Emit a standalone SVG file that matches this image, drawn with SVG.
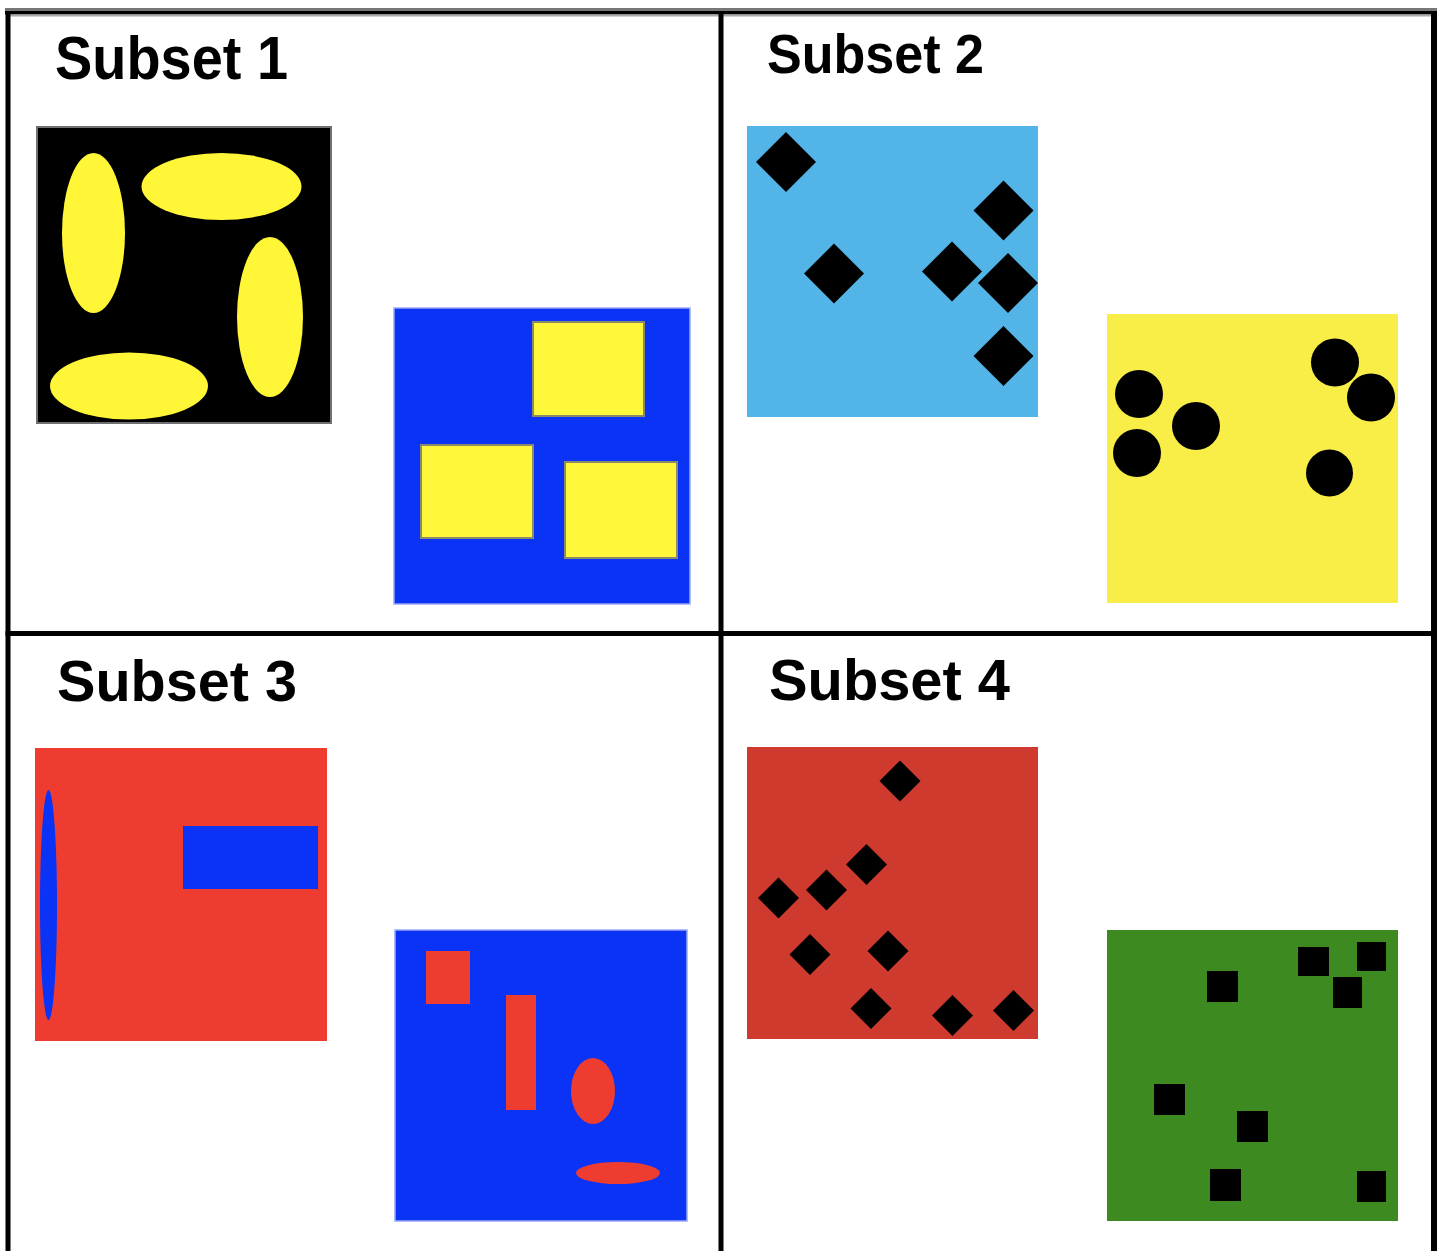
<svg xmlns="http://www.w3.org/2000/svg" xmlns:xlink="http://www.w3.org/1999/xlink" width="1441" height="1251" viewBox="0 0 1441 1251">
<style>
.title{font-family:"Liberation Sans",Arial,sans-serif;font-weight:bold;fill:#000}
.yel{fill:#FFF637}
.yrect{fill:#FFF73A;stroke:#8a8a6a;stroke-width:2}
.blk{fill:#000}
.blue{fill:#0A33F6}
.grid{fill:#000}
</style>
<defs>
<polygon id="d30" points="0,-30 30,0 0,30 -30,0"/>
<polygon id="d20" points="0,-20.5 20.5,0 0,20.5 -20.5,0"/>
</defs>
<rect x="0" y="0" width="1441" height="1251" fill="#fff"/>

<g id="subset1">
<text class="title" x="55" y="79" font-size="62" textLength="233" lengthAdjust="spacingAndGlyphs">Subset 1</text>
<g id="s1-black">
<rect x="37" y="127" width="294" height="296" fill="#000" stroke="#707070" stroke-width="2"/>
<ellipse class="yel" cx="93.5" cy="233" rx="31.5" ry="80"/>
<ellipse class="yel" cx="221.5" cy="186.5" rx="80" ry="33.5"/>
<ellipse class="yel" cx="270" cy="317" rx="33" ry="80"/>
<ellipse class="yel" cx="129" cy="386" rx="79" ry="33.5"/>
</g>
<g id="s1-blue">
<rect x="394" y="308" width="296" height="296" fill="#0A33F6" stroke="#9aa8f8" stroke-width="1.5"/>
<rect class="yrect" x="533" y="322" width="111" height="94"/>
<rect class="yrect" x="421" y="445" width="112" height="93"/>
<rect class="yrect" x="565" y="462" width="112" height="96"/>
</g>
</g>

<g id="subset2">
<text class="title" x="767" y="73" font-size="56" textLength="217" lengthAdjust="spacingAndGlyphs">Subset 2</text>
<g id="s2-lightblue">
<rect x="747" y="126" width="291" height="291" fill="#53B5E7"/>
<use href="#d30" x="786" y="162"/>
<use href="#d30" x="1003.5" y="210.5"/>
<use href="#d30" x="834" y="273.5"/>
<use href="#d30" x="952" y="271.5"/>
<use href="#d30" x="1008" y="283"/>
<use href="#d30" x="1003.5" y="356"/>
</g>
<g id="s2-yellow">
<rect x="1107" y="314" width="291" height="289" fill="#F8EE47"/>
<circle class="blk" cx="1139" cy="394" r="24"/>
<circle class="blk" cx="1137" cy="453" r="24"/>
<circle class="blk" cx="1196" cy="426" r="24"/>
<circle class="blk" cx="1335" cy="362.5" r="24"/>
<circle class="blk" cx="1371" cy="397.5" r="24"/>
<circle class="blk" cx="1329.5" cy="473" r="23.5"/>
</g>
</g>

<g id="subset3">
<text class="title" x="57" y="701" font-size="57" textLength="240" lengthAdjust="spacingAndGlyphs">Subset 3</text>
<g id="s3-red">
<rect x="35" y="748" width="292" height="293" fill="#EE3D30"/>
<ellipse class="blue" cx="48.5" cy="905" rx="8.5" ry="115"/>
<rect class="blue" x="183" y="826" width="135" height="63"/>
</g>
<g id="s3-blue">
<rect x="395" y="930" width="292" height="291" fill="#0A33F6" stroke="#9aa8f8" stroke-width="1.5"/>
<rect x="426" y="951" width="44" height="53" fill="#EE3D30"/>
<rect x="506" y="995" width="30" height="115" fill="#EE3D30"/>
<ellipse cx="593" cy="1091" rx="22" ry="33" fill="#EE3D30"/>
<ellipse cx="618" cy="1173" rx="42" ry="11" fill="#EE3D30"/>
</g>
</g>

<g id="subset4">
<text class="title" x="769" y="700" font-size="57" textLength="241" lengthAdjust="spacingAndGlyphs">Subset 4</text>
<g id="s4-red">
<rect x="747" y="747" width="291" height="292" fill="#CF3A2F"/>
<use href="#d20" x="900" y="781"/>
<use href="#d20" x="866.5" y="864.5"/>
<use href="#d20" x="826.5" y="890"/>
<use href="#d20" x="778.5" y="898"/>
<use href="#d20" x="810" y="954.5"/>
<use href="#d20" x="888" y="951"/>
<use href="#d20" x="871" y="1008.5"/>
<use href="#d20" x="952.5" y="1015.5"/>
<use href="#d20" x="1013.5" y="1010.5"/>
</g>
<g id="s4-green">
<rect x="1107" y="930" width="291" height="291" fill="#3D8A21"/>
<rect class="blk" x="1207" y="971" width="31" height="31"/>
<rect class="blk" x="1298" y="947" width="31" height="29"/>
<rect class="blk" x="1357" y="942" width="29" height="29"/>
<rect class="blk" x="1333" y="977" width="29" height="31"/>
<rect class="blk" x="1154" y="1084" width="31" height="31"/>
<rect class="blk" x="1237" y="1111" width="31" height="31"/>
<rect class="blk" x="1210" y="1169" width="31" height="32"/>
<rect class="blk" x="1357" y="1171" width="29" height="31"/>
</g>
</g>

<g id="grid-lines">
<rect x="5" y="8" width="1432" height="3" fill="#777"/>
<rect x="5" y="11" width="1432" height="3.5" fill="#000"/>
<rect x="10" y="14.5" width="1421" height="2" fill="#aaa"/>
<rect class="grid" x="5.5" y="11" width="5" height="1240"/>
<rect class="grid" x="1431" y="11" width="6" height="1240"/>
<rect class="grid" x="718.5" y="11" width="5" height="1240"/>
<rect class="grid" x="5.5" y="631" width="1431.5" height="5"/>
</g>
</svg>
